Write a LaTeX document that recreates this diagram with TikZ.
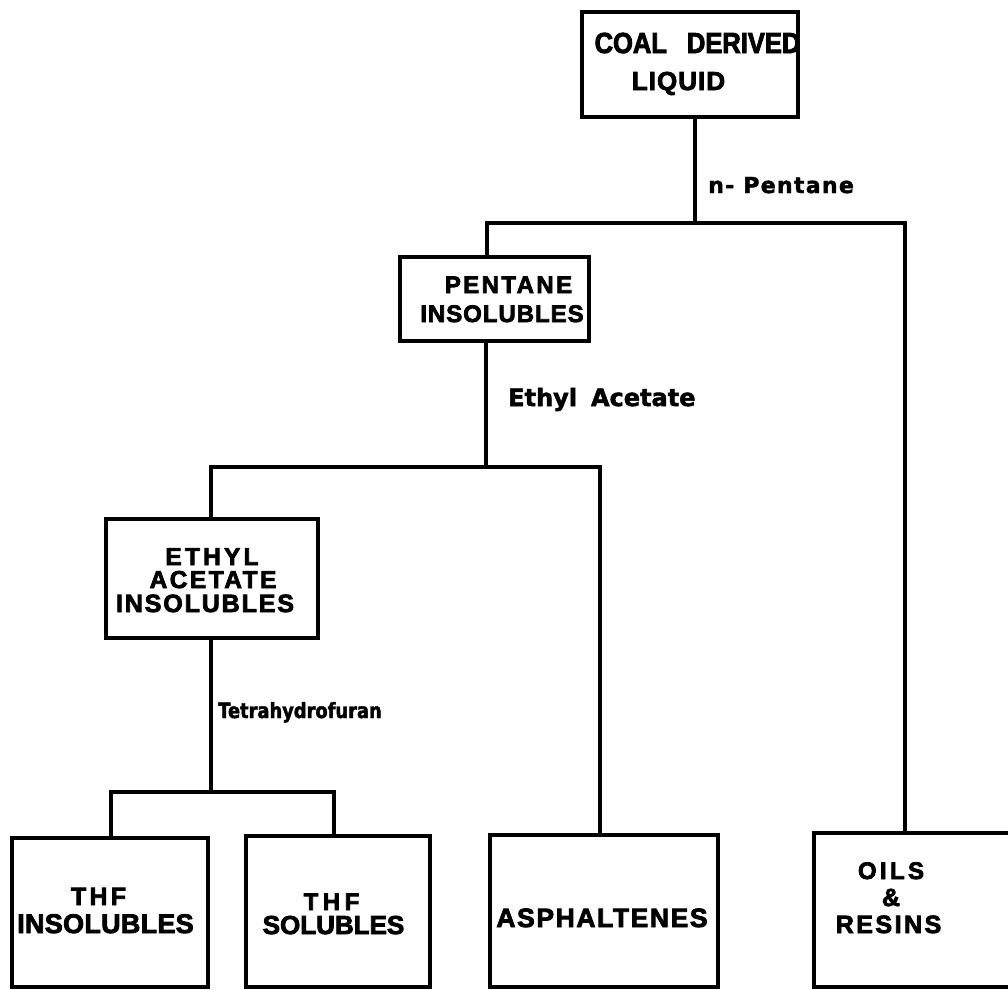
\documentclass[tikz,border=0pt]{standalone}
\usepackage{fontspec}
\newfontfamily\boxfont{Liberation Sans}[BoldFeatures={FakeBold=3}]
\newfontfamily\lblfont{DejaVu Sans}[BoldFeatures={FakeBold=2}]
\newcommand\bxf[2]{\boxfont\bfseries\fontsize{#1}{#1}\selectfont\addfontfeature{LetterSpace=#2}}
\newcommand\lbf[2]{\lblfont\bfseries\fontsize{#1}{#1}\selectfont\addfontfeature{LetterSpace=#2}}
\tikzset{
  box/.style={draw, line width=3.4pt, inner sep=0pt, rectangle},
  txt/.style={anchor=base, inner sep=0pt},
  lbl/.style={anchor=base west, inner sep=0pt},
  conn/.style={line width=3.4pt, line join=miter},
}
\begin{document}
\begin{tikzpicture}[x=1pt, y=-1pt]
\useasboundingbox (0,0) rectangle (1008,989);
\clip (0,0) rectangle (1008,989);
% boxes
\node[box, minimum width=216pt, minimum height=105pt] (coal) at (690,64.5) {};
\node[box, minimum width=189pt, minimum height=84pt] (pent) at (494.5,299) {};
\node[box, minimum width=212pt, minimum height=119pt] (ethyl) at (212,578.5) {};
\node[box, minimum width=196pt, minimum height=149pt] (thfi) at (110,912.5) {};
\node[box, minimum width=184pt, minimum height=151pt] (thfs) at (338,911.5) {};
\node[box, minimum width=228pt, minimum height=152pt] (asph) at (604,911) {};
\node[box, minimum width=206pt, minimum height=154pt] (oils) at (917,910) {};
% box texts
\node[txt, font={\bxf{29}{0}\addfontfeature{FakeStretch=0.88}}] (coal1) at (697.5,53) {COAL\hspace{20pt}DERIVED};
\node[txt, font={\bxf{26}{4}}] (coal2) at (678.5,90) {LIQUID};
\node[txt, font={\bxf{24}{10}}] (pent1) at (508.5,293) {PENTANE};
\node[txt, font={\bxf{24}{4}}] (pent2) at (502,322) {INSOLUBLES};
\node[txt, font={\bxf{24.5}{13}}] (ethyl1) at (212,565) {ETHYL};
\node[txt, font={\bxf{24.5}{10}}] (ethyl2) at (213,588) {ACETATE};
\node[txt, font={\bxf{25}{7.5}}] (ethyl3) at (205,612) {INSOLUBLES};
\node[txt, font={\bxf{25}{13}}] (thfi1) at (98.5,905) {THF};
\node[txt, font={\bxf{27}{1}}] (thfi2) at (105.5,933) {INSOLUBLES};
\node[txt, font={\bxf{24}{19}}] (thfs1) at (331.5,910) {THF};
\node[txt, font={\bxf{26}{0}}] (thfs2) at (333.5,934) {SOLUBLES};
\node[txt, font={\bxf{26.5}{6}}] (asph1) at (602,927) {ASPHALTENES};
\node[txt, font={\bxf{24}{14}}] (oils1) at (891,879) {OILS};
\node[txt, font={\bxf{25}{0}}] (oils2) at (891,906) {\&};
\node[txt, font={\bxf{25}{10}}] (oils3) at (888.5,933) {RESINS};
% solvent labels
\node[lbl, font={\lbf{22}{6}}] (npent) at (708,193) {n-\ Pentane};
\node[lbl, font={\lbf{24}{0}}] (etac) at (508,406) {Ethyl\hspace{14pt}Acetate};
\node[lbl, font={\lbf{21}{0}\addfontfeature{FakeStretch=0.85}}] (thf) at (218,718) {Tetrahydrofuran};
% junctions
\coordinate (j1) at (695,223);
\coordinate (a1) at (487,223);
\coordinate (b1) at (905,223);
\coordinate (j2) at (486,467);
\coordinate (a2) at (211,467);
\coordinate (b2) at (600,467);
\coordinate (j3) at (211,792);
\coordinate (a3) at (111,792);
\coordinate (b3) at (334,792);
% connectors
\draw[conn] (coal.south -| j1) -- (j1);
\draw[conn] (pent.north -| a1) -- (a1) -- (b1) -- (oils.north -| b1);
\draw[conn] (pent.south -| j2) -- (j2);
\draw[conn] (ethyl.north -| a2) -- (a2) -- (b2) -- (asph.north -| b2);
\draw[conn] (ethyl.south -| j3) -- (j3);
\draw[conn] (thfi.north -| a3) -- (a3) -- (b3) -- (thfs.north -| b3);
\end{tikzpicture}
\end{document}
